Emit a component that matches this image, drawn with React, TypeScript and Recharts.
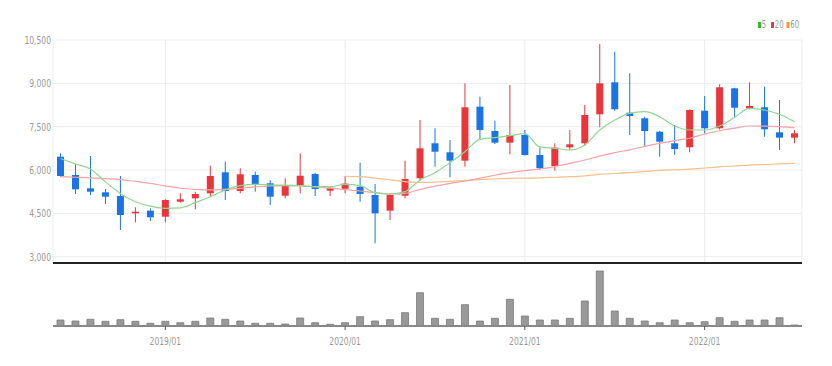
import React from 'react';
import { ComposedChart, BarChart, Bar, Line, XAxis, YAxis, CartesianGrid } from 'recharts';

const months = [
  '2018/06', '2018/07', '2018/08', '2018/09', '2018/10', '2018/11', '2018/12',
  '2019/01', '2019/02', '2019/03', '2019/04', '2019/05', '2019/06', '2019/07', '2019/08', '2019/09', '2019/10', '2019/11', '2019/12',
  '2020/01', '2020/02', '2020/03', '2020/04', '2020/05', '2020/06', '2020/07', '2020/08', '2020/09', '2020/10', '2020/11', '2020/12',
  '2021/01', '2021/02', '2021/03', '2021/04', '2021/05', '2021/06', '2021/07', '2021/08', '2021/09', '2021/10', '2021/11', '2021/12',
  '2022/01', '2022/02', '2022/03', '2022/04', '2022/05', '2022/06', '2022/07',
];

const openV = [6461, 5828, 5367, 5229, 5101, 4502, 4592, 4384, 4904, 5021, 5194, 5921, 5274, 5828, 5540, 5111, 5457, 5862, 5284, 5350, 5423, 5135, 4592, 5111, 5713, 6925, 6613, 6323, 8192, 7350, 6946, 7212, 6520, 6139, 6786, 6925, 7928, 9036, 7984, 7790, 7326, 6925, 6786, 8053, 7444, 8828, 8136, 8171, 7305, 7119];
const highV = [6579, 6208, 6485, 5343, 5793, 4710, 4675, 4987, 5194, 5250, 6150, 6288, 6060, 5942, 5655, 5713, 6579, 5907, 5423, 5793, 6253, 5516, 5170, 6323, 7731, 7444, 7039, 9001, 8538, 7707, 8942, 7385, 6780, 6925, 7385, 8250, 10362, 10095, 9347, 7845, 7350, 7558, 8100, 8562, 8967, 8850, 9036, 8884, 8423, 7385];
const lowV = [5770, 5170, 5135, 4824, 3924, 4190, 4236, 4190, 4869, 4640, 5077, 4962, 5194, 5250, 4789, 5021, 5194, 5101, 5101, 5194, 4904, 3464, 4270, 5021, 5630, 6115, 5748, 6115, 7074, 6900, 6544, 6500, 6000, 5976, 6693, 6831, 7478, 8050, 7212, 6831, 6461, 6520, 6613, 7271, 7400, 7811, 8100, 7153, 6693, 6925];
const closeV = [5793, 5333, 5250, 5077, 4443, 4557, 4364, 4962, 4987, 5170, 5793, 5274, 5852, 5516, 5077, 5481, 5803, 5343, 5367, 5530, 5170, 4502, 5135, 5689, 6752, 6634, 6323, 8171, 7385, 6946, 7212, 6520, 6060, 6772, 6890, 7904, 9001, 8102, 7870, 7350, 6980, 6727, 8077, 7444, 8863, 8157, 8216, 7409, 7119, 7271];

const ma5 = [6400, 6210, 6035, 5590, 5190, 4900, 4750, 4675, 4690, 4870, 5077, 5310, 5457, 5505, 5480, 5480, 5457, 5423, 5423, 5505, 5457, 5215, 5170, 5250, 5655, 5907, 6253, 6634, 7063, 7119, 7188, 7260, 6800, 6752, 6693, 6866, 7385, 7731, 7963, 8018, 7845, 7523, 7385, 7385, 7523, 7824, 8136, 8077, 7928, 7672];
const ma20 = [5770, 5750, 5730, 5700, 5670, 5610, 5540, 5450, 5370, 5330, 5310, 5330, 5367, 5420, 5447, 5460, 5450, 5420, 5380, 5320, 5274, 5215, 5170, 5194, 5330, 5440, 5540, 5620, 5720, 5820, 5910, 5980, 6035, 6115, 6230, 6347, 6480, 6600, 6700, 6820, 6925, 7020, 7100, 7247, 7360, 7450, 7523, 7520, 7500, 7465];
const ma60: (number | null)[] = [null, null, null, null, null, null, null, null, null, null, null, null, null, null, null, null, null, null, null, 5780, 5770, 5720, 5660, 5600, 5570, 5580, 5610, 5640, 5670, 5690, 5710, 5720, 5730, 5750, 5770, 5800, 5850, 5880, 5910, 5950, 5990, 6010, 6030, 6070, 6110, 6140, 6170, 6190, 6210, 6230];

const volume = [600, 500, 670, 470, 630, 470, 270, 470, 330, 470, 800, 670, 500, 270, 270, 200, 800, 330, 170, 330, 930, 500, 630, 1330, 3330, 770, 670, 2130, 500, 770, 2670, 1000, 600, 600, 770, 2500, 5500, 1500, 770, 500, 330, 600, 330, 430, 830, 470, 600, 600, 830, 100];

const priceTicks = [3000, 4500, 6000, 7500, 9000, 10500];
const yearTicks = ['2019/01', '2020/01', '2021/01', '2022/01'];
const legendItems = [
  { label: '5', color: '#2ebd2e' },
  { label: '20', color: '#ec3a3a' },
  { label: '60', color: '#f29a33' },
];

const data = months.map((m, i) => ({
  date: m,
  open: openV[i],
  high: highV[i],
  low: lowV[i],
  close: closeV[i],
  range: [lowV[i], highV[i]],
  ma5: ma5[i],
  ma20: ma20[i],
  ma60: ma60[i],
  volume: volume[i],
}));

const RED = '#e8363c';
const BLUE = '#1b74e4';
const FONT = '"Liberation Sans Narrow", "DejaVu Sans Condensed", Arial, sans-serif';

const fmt = (v: number) => String(v).replace(/\B(?=(\d{3})+(?!\d))/g, ',');

const Candle = (props: any) => {
  const { x, y, width, height, payload } = props;
  if (!payload || x == null) return null;
  const { open, close, high, low } = payload;
  const top = Math.min(y, y + height);
  const h = Math.abs(height);
  const up = close >= open;
  const color = up ? RED : BLUE;
  const range = high - low;
  const ratio = range > 0 ? h / range : 0;
  const cx = x + width / 2;
  const bodyTop = top + (high - Math.max(open, close)) * ratio;
  const bodyH = Math.max(1.5, Math.abs(open - close) * ratio);
  const bw = 7;
  return (
    <g>
      <line x1={cx} x2={cx} y1={top} y2={top + h} stroke={color} strokeWidth={1} />
      <rect x={cx - bw / 2} y={bodyTop} width={bw} height={bodyH} fill={color} />
    </g>
  );
};

const YTick = (props: any) => {
  const { x, y, payload } = props;
  return (
    <text
      transform={`translate(${x},${y}) scale(0.77,1)`}
      textAnchor="end"
      dy="0.35em"
      fontSize={11}
      fill="#999"
      fontFamily={FONT}
    >
      {fmt(payload.value)}
    </text>
  );
};

const XTick = (props: any) => {
  const { x, y, payload } = props;
  return (
    <text
      transform={`translate(${x},${y}) scale(0.77,1)`}
      textAnchor="middle"
      dy="0.71em"
      fontSize={11}
      fill="#999"
      fontFamily={FONT}
    >
      {payload.value}
    </text>
  );
};

const EmptyTick = () => <g />;

const LegendBox = () => {
  const starts = [758, 771, 786.5];
  return (
    <svg width={832} height={40} style={{ position: 'absolute', left: 0, top: 0 }}>
      {legendItems.map((it, i) => (
        <g key={it.label}>
          <rect x={starts[i]} y={22} width={3} height={6} fill={it.color} />
          <text
            transform={`translate(${starts[i] + 3.8},${28.3}) scale(0.77,1)`}
            fontSize={10}
            fill="#999"
            fontFamily={FONT}
          >
            {it.label}
          </text>
        </g>
      ))}
    </svg>
  );
};

export default function App() {
  return (
    <div style={{ position: 'absolute', left: 0, top: 0, width: 832, height: 366, background: '#fff', overflow: 'hidden' }}>
      <div style={{ position: 'absolute', left: 0, top: 0 }}>
        <ComposedChart width={832} height={265} data={data} margin={{ top: 40, right: 30, left: 0, bottom: 0 }}>
          <CartesianGrid stroke="#ececec" strokeWidth={1} />
          <XAxis
            dataKey="date"
            ticks={yearTicks}
            interval={0}
            tick={<EmptyTick />}
            tickLine={false}
            height={2}
            axisLine={{ stroke: '#222', strokeWidth: 2 }}
          />
          <YAxis
            domain={[2782, 10500]}
            ticks={priceTicks}
            interval={0}
            allowDataOverflow
            width={53}
            tickLine={false}
            axisLine={false}
            tickSize={0}
            tickMargin={2}
            tick={<YTick />}
          />
          <Bar dataKey="range" barSize={7} shape={<Candle />} isAnimationActive={false} />
          <Line type="monotone" dataKey="ma60" stroke="#f7c08c" strokeWidth={1.2} dot={false} isAnimationActive={false} />
          <Line type="monotone" dataKey="ma20" stroke="#f5a3a8" strokeWidth={1.2} dot={false} isAnimationActive={false} />
          <Line type="monotone" dataKey="ma5" stroke="#8fd68f" strokeWidth={1.2} dot={false} isAnimationActive={false} />
        </ComposedChart>
      </div>
      <div style={{ position: 'absolute', left: 0, top: 263 }}>
        <BarChart width={832} height={103} data={data} margin={{ top: 3, right: 30, left: 53, bottom: 0 }}>
          <XAxis
            dataKey="date"
            ticks={yearTicks}
            interval={0}
            height={40}
            tickSize={4}
            tickMargin={7}
            tickLine={{ stroke: '#555', strokeWidth: 1 }}
            axisLine={{ stroke: '#888', strokeWidth: 2 }}
            tick={<XTick />}
          />
          <YAxis hide domain={[0, 6000]} />
          <Bar dataKey="volume" barSize={7} fill="#999" stroke="#7a7a7a" strokeWidth={0.8} isAnimationActive={false} />
        </BarChart>
      </div>
      <LegendBox />
    </div>
  );
}
